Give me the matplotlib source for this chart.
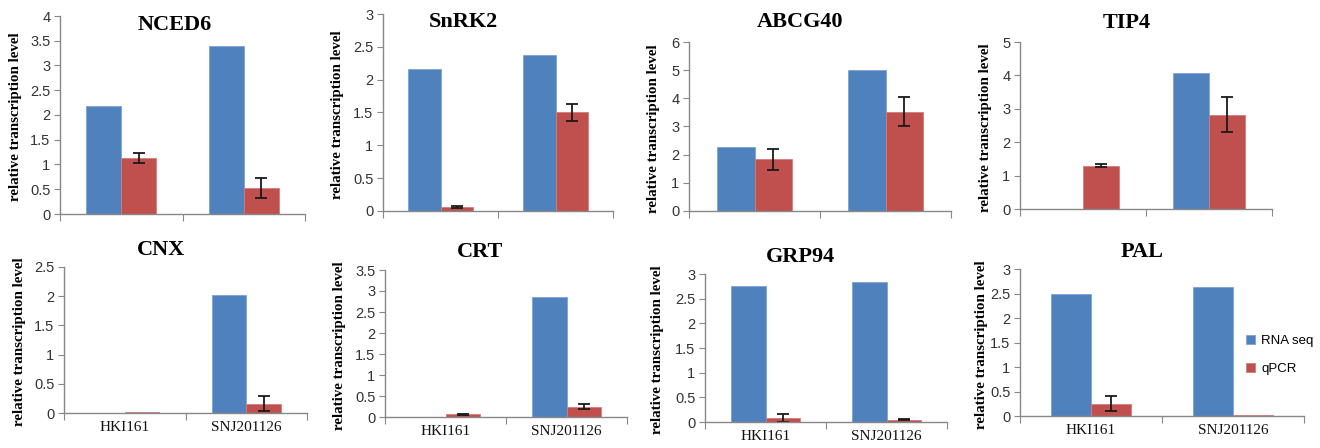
import matplotlib
matplotlib.use("Agg")
import matplotlib.pyplot as plt
import numpy as np
from matplotlib.ticker import FuncFormatter

# ---------------- DATA ----------------

genes = ["NCED6", "SnRK2", "ABCG40", "TIP4", "CNX", "CRT", "GRP94", "PAL"]
lines = ["HKI161", "SNJ201126"]

rna_seq = [[2.18, 3.40], [2.16, 2.38], [2.27, 5.00], [0.0, 4.08],
           [0.0, 2.02], [0.0, 2.86], [2.75, 2.83], [2.48, 2.64]]
qpcr = [[1.13, 0.53], [0.06, 1.50], [1.83, 3.53], [1.30, 2.82],
        [0.02, 0.16], [0.06, 0.25], [0.08, 0.05], [0.25, 0.03]]
qpcr_err = [[0.10, 0.20], [0.02, 0.13], [0.38, 0.52], [0.05, 0.52],
            [0.0, 0.13], [0.01, 0.07], [0.08, 0.01], [0.15, 0.0]]

y_max = [4, 3, 6, 5, 2.5, 3.5, 3, 3]
y_step = [0.5, 0.5, 1, 1, 0.5, 0.5, 0.5, 0.5]

# ---------------- LAYOUT (pixels, from top-left) ----------------

W, H = 1320, 448
# x0, x1, y_top, y_bottom of each plot area
boxes = [(60, 305, 16, 214), (383, 613, 14, 211), (689, 951, 42, 211), (1020, 1272, 42, 209),
         (64, 307, 267, 413), (385, 627, 270, 417), (705, 947, 274, 422), (1020, 1304, 269, 416)]
title_pos = [(175, 25), (463, 22), (800, 22), (1127, 23),
             (161, 250), (480, 252), (800, 257), (1142, 252)]
ylabel_x = [16, 338, 653, 985, 20, 340, 658, 982]

BLUE = "#4F81BD"
RED = "#C0504D"
SERIF = "Liberation Serif"
SANS = "Liberation Sans"


def draw_panel(fig, i):
    x0, x1, yt, yb = boxes[i]
    ax = fig.add_axes([x0 / W, 1 - yb / H, (x1 - x0) / W, (yb - yt) / H])

    x = np.arange(len(lines))
    w = 0.285
    ax.bar(x - w / 2, rna_seq[i], w, color=BLUE, edgecolor="#7DA2D6", linewidth=0.6, label="RNA seq")
    ax.bar(x + w / 2, qpcr[i], w, color=RED, edgecolor="#D27C7A", linewidth=0.6, label="qPCR")
    err = np.array(qpcr_err[i])
    show = err > 0
    ax.errorbar((x + w / 2)[show], np.array(qpcr[i])[show], yerr=err[show], fmt="none",
                ecolor="#1a1a1a", elinewidth=1.3, capsize=4, capthick=1.3)

    ax.set_xlim(-0.5, 1.5)
    ax.set_ylim(0, y_max[i])
    ax.set_yticks(np.arange(0, y_max[i] + 0.001, y_step[i]))
    ax.yaxis.set_major_formatter(FuncFormatter(lambda v, p: "%g" % v))

    # category boundary ticks on x, labels centred in between
    ax.set_xticks([-0.5, 0.5, 1.5])
    ax.set_xticklabels([])
    if i >= 4:
        ax.set_xticks(x, minor=True)
        ax.set_xticklabels(lines, minor=True, fontfamily=SERIF, fontsize=11, color="#111111")
    ax.tick_params(axis="x", which="minor", length=0, pad=6)
    ax.tick_params(axis="x", which="major", direction="out", length=5, color="#888888")
    ax.tick_params(axis="y", direction="out", length=4, color="#888888",
                   labelsize=10.5, labelcolor="#333333", pad=3)
    for lab in ax.get_yticklabels():
        lab.set_fontfamily(SANS)

    for side in ["top", "right"]:
        ax.spines[side].set_visible(False)
    for side in ["left", "bottom"]:
        ax.spines[side].set_color("#888888")
        ax.spines[side].set_linewidth(1.0)

    tx, ty = title_pos[i]
    fig.text(tx / W, 1 - ty / H, genes[i], ha="center", va="center",
             fontfamily=SERIF, fontweight="bold", fontsize=16)
    fig.text(ylabel_x[i] / W, 1 - ((yt + yb) / 2 + 2) / H, "relative transcription level",
             rotation=90, ha="center", va="center", fontfamily=SERIF,
             fontweight="bold", fontsize=10.8)
    return ax


def main():
    fig = plt.figure(figsize=(W / 100, H / 100), dpi=100)
    axes = [draw_panel(fig, i) for i in range(len(genes))]

    handles, labels = axes[-1].get_legend_handles_labels()
    fig.legend(handles, labels, loc="center left", bbox_to_anchor=(1246 / W, 1 - 355 / H),
               frameon=False, borderpad=0, borderaxespad=0, handlelength=0.7,
               handleheight=0.7, handletextpad=0.45, labelspacing=1.2,
               prop={"family": SANS, "size": 9.5})

    fig.savefig("out.png", dpi=100)


if __name__ == "__main__":
    main()
